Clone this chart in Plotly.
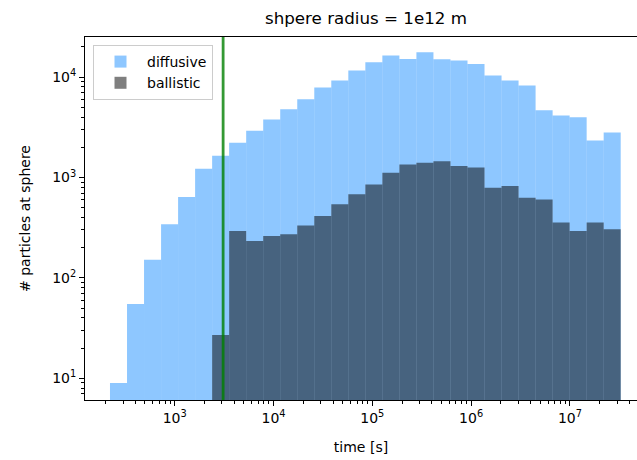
import numpy as np
import plotly.graph_objects as go

# ---- data ----
t_min = 221.3          # first bin edge [s]
t_max = 3.266e7        # last bin edge [s]
n_bins = 30
bin_edges = np.logspace(np.log10(t_min), np.log10(t_max), n_bins + 1)

diffusive = [9, 55, 152, 342, 638, 1222, 1648, 2218, 2917, 3785,
             4786, 6012, 7870, 9240, 11620, 14030, 16370, 15170, 17660, 15030,
             14590, 13520, 10350, 9240, 8240, 4660, 4150, 3985, 2340, 2806]
ballistic = [0, 0, 0, 0, 0, 0, 27, 293, 233, 262,
             272, 332, 413, 541, 679, 853, 1117, 1349, 1403, 1455,
             1298, 1259, 792, 822, 630, 605, 356, 293, 356, 305]
t_line = 3.09e3        # vertical marker [s]

x_tick_vals = [1e3, 1e4, 1e5, 1e6, 1e7]
x_tick_text = ["10<sup>3</sup>", "10<sup>4</sup>", "10<sup>5</sup>", "10<sup>6</sup>", "10<sup>7</sup>"]
y_tick_vals = [1e1, 1e2, 1e3, 1e4]
y_tick_text = ["10<sup>1</sup>", "10<sup>2</sup>", "10<sup>3</sup>", "10<sup>4</sup>"]

# ---- build ----
centers = (bin_edges[:-1] + bin_edges[1:]) / 2
widths = bin_edges[1:] - bin_edges[:-1]

FONT = "DejaVu Sans"
fig = go.Figure()
fig.add_trace(go.Bar(x=centers, y=diffusive, width=widths, name="diffusive",
                     marker=dict(color="rgba(30,144,255,0.5)", line=dict(width=0))))
fig.add_trace(go.Bar(x=centers, y=[v if v > 0 else None for v in ballistic], width=widths,
                     name="ballistic",
                     marker=dict(color="rgba(0,0,0,0.5)", line=dict(width=0))))
fig.add_trace(go.Scatter(x=[t_line, t_line], y=[1, 1e6], mode="lines",
                         line=dict(color="rgba(0,128,0,0.8)", width=2.8),
                         showlegend=False, hoverinfo="skip"))

minor_x = [m * 10 ** k for k in range(2, 8) for m in range(2, 10)]
minor_y = [m * 10 ** k for k in range(0, 5) for m in range(2, 10)]

fig.update_layout(
    width=637, height=460,
    margin=dict(l=85, r=0, t=37, b=60),
    paper_bgcolor="white", plot_bgcolor="white",
    barmode="overlay",
    font=dict(family=FONT, size=14, color="black"),
    title=dict(text="shpere radius = 1e12 m", font=dict(size=16.7, family=FONT),
               xref="container", x=366 / 637, xanchor="center",
               yref="container", y=1 - 18 / 460, yanchor="middle"),
    showlegend=True,
    legend=dict(x=0.0145, y=0.978, xanchor="left", yanchor="top",
                bgcolor="rgba(255,255,255,0.8)", bordercolor="#cccccc", borderwidth=1,
                font=dict(size=14, family=FONT), tracegroupgap=2, itemwidth=43),
)
fig.update_xaxes(
    type="log", range=[2.092, 7.679],
    showline=True, linecolor="black", linewidth=1.1, mirror=True,
    showgrid=False, zeroline=False,
    ticks="outside", ticklen=4.9, tickwidth=1.1, tickcolor="black",
    tickmode="array", tickvals=x_tick_vals, ticktext=x_tick_text,
    tickfont=dict(size=14, family=FONT),
    minor=dict(tickmode="array", tickvals=minor_x, ticks="outside", ticklen=2.8,
               tickwidth=0.8, tickcolor="black", showgrid=False),
    title=dict(text="time [s]", font=dict(size=14, family=FONT), standoff=17),
)
fig.update_yaxes(
    type="log", range=[0.784, 4.399],
    showline=True, linecolor="black", linewidth=1.1, mirror=False,
    showgrid=False, zeroline=False,
    ticks="outside", ticklen=4.9, tickwidth=1.1, tickcolor="black",
    tickmode="array", tickvals=y_tick_vals, ticktext=y_tick_text,
    tickfont=dict(size=14, family=FONT),
    minor=dict(tickmode="array", tickvals=minor_y, ticks="outside", ticklen=2.8,
               tickwidth=0.8, tickcolor="black", showgrid=False),
    title=dict(text="# particles at sphere", font=dict(size=14, family=FONT), standoff=18),
)

fig.write_html("out.html")
